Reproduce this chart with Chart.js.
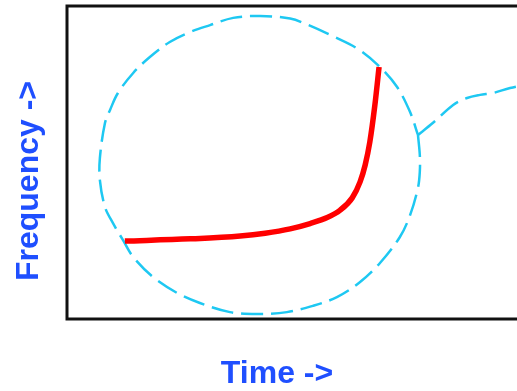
<!DOCTYPE html>
<html>
<head>
<meta charset="utf-8">
<script src="https://cdn.jsdelivr.net/npm/chart.js@4"></script>
<style>
  html, body { margin: 0; padding: 0; background: #fff; overflow: hidden; }
  #wrap { width: 517px; height: 391px; overflow: hidden; position: relative; }
  canvas { display: block; }
</style>
</head>
<body>
<div id="wrap"><canvas id="c" width="540" height="391"></canvas></div>
<script>
// Axis titles
const xTitle = 'Time ->';
const yTitle = 'Frequency ->';

// Red curve (time, frequency) in arbitrary 0-100 units
const curveX = [12.5, 26.6, 37.4, 42.8, 48.2, 52.5, 56.2, 59.0, 61.6, 63.3, 64.4, 65.4, 66.5, 67.4];
const curveY = [24.9, 25.6, 26.5, 27.4, 28.8, 30.5, 32.4, 34.8, 38.7, 43.8, 49.2, 56.5, 68.4, 80.5];

// Dashed highlight circle (closed outline)
const ringX = [75.8, 76.2, 76.2, 75.8, 74.1, 71.9, 67.6, 63.3, 58.3, 53.1, 47.5, 41.0, 35.2, 28.7, 23.8, 18.6, 14.3, 12.1, 9.9, 8.2, 7.1, 7.1, 8.2, 9.3, 11.0, 14.3, 17.9, 22.2, 26.6, 30.9, 35.9, 41.7, 48.2, 52.0, 57.5, 62.9, 67.6, 71.3, 74.1, 75.8];
const ringY = [58.8, 52.4, 47.0, 41.9, 33.2, 26.2, 17.9, 11.8, 7.0, 4.2, 2.2, 1.6, 2.2, 5.1, 8.3, 13.4, 19.8, 25.2, 30.7, 35.8, 44.4, 51.4, 62.6, 66.8, 72.2, 78.6, 83.7, 88.5, 91.7, 93.9, 96.2, 96.8, 96.0, 94.0, 90.3, 86.2, 80.5, 74.1, 66.1, 58.8];

// Callout tail leaving the circle
const tailX = [75.8, 79.0, 83.4, 86.4, 89.2, 92.0, 95.7, 100];
const tailY = [58.8, 62.6, 68.4, 70.6, 71.6, 72.2, 73.8, 75.1];

const toPts = (xs, ys) => xs.map((x, i) => ({ x: x, y: ys[i] }));

const framePlugin = {
  id: 'frame',
  beforeDatasetsDraw(chart) {
    const { ctx, chartArea: a } = chart;
    ctx.save();
    ctx.strokeStyle = '#111';
    ctx.lineWidth = 3;
    ctx.strokeRect(a.left, a.top, a.right - a.left, a.bottom - a.top);
    ctx.restore();
  },
  afterDraw(chart) {
    const { ctx } = chart;
    ctx.save();
    ctx.fillStyle = '#1f4fff';
    ctx.font = 'bold 32px "Liberation Sans", Arial, sans-serif';
    ctx.textAlign = 'center';
    ctx.textBaseline = 'alphabetic';
    ctx.fillText(xTitle, 277, 383);
    ctx.translate(38, 181);
    ctx.rotate(-Math.PI / 2);
    ctx.fillText(yTitle, 0, 0);
    ctx.restore();
  }
};

new Chart(document.getElementById('c'), {
  type: 'line',
  data: {
    datasets: [
      {
        data: toPts(curveX, curveY),
        borderColor: '#ff0000',
        borderWidth: 5.5,
        borderCapStyle: 'butt',
        borderJoinStyle: 'round',
        cubicInterpolationMode: 'monotone',
        pointRadius: 0,
        fill: false,
        order: 1
      },
      {
        data: toPts(ringX, ringY),
        borderColor: '#1ec8f2',
        borderWidth: 2.5,
        borderDash: [22, 8],
        tension: 0.35,
        pointRadius: 0,
        fill: false,
        order: 2
      },
      {
        data: toPts(tailX, tailY),
        borderColor: '#1ec8f2',
        borderWidth: 2.5,
        borderDash: [22, 8],
        tension: 0.35,
        pointRadius: 0,
        fill: false,
        order: 3
      }
    ]
  },
  options: {
    responsive: false,
    animation: false,
    devicePixelRatio: 1,
    layout: { padding: { left: 67, top: 6, right: 10, bottom: 72 } },
    plugins: { legend: { display: false }, tooltip: { enabled: false }, title: { display: false } },
    scales: {
      x: { type: 'linear', min: 0, max: 100, display: false },
      y: { type: 'linear', min: 0, max: 100, display: false }
    }
  },
  plugins: [framePlugin]
});
</script>
</body>
</html>
